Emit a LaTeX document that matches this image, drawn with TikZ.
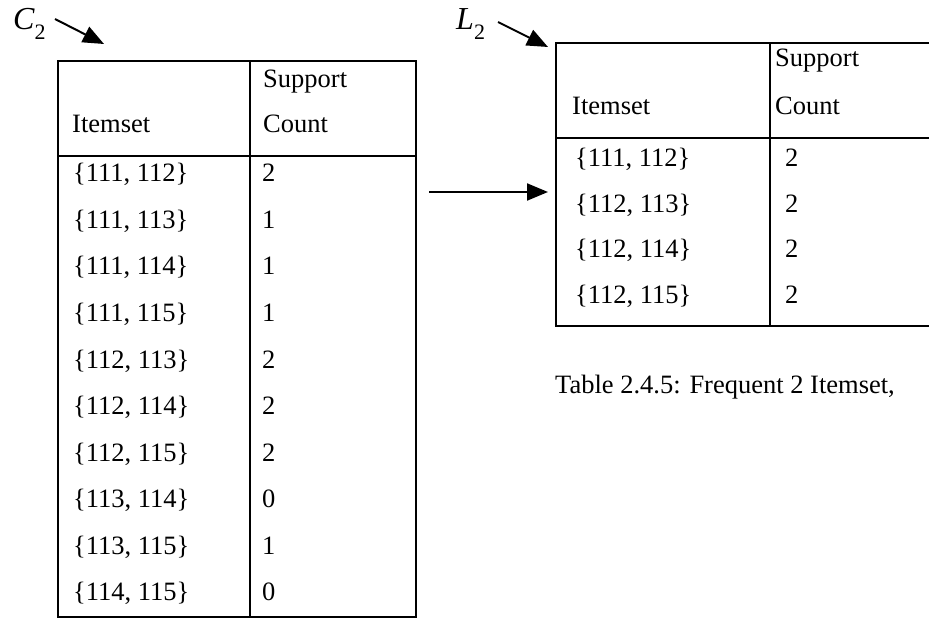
\documentclass[tikz,border=0pt]{standalone}
\usepackage{fontspec}
\setmainfont{Liberation Serif}
\usetikzlibrary{arrows.meta}
\begin{document}
\begin{tikzpicture}[x=1bp,y=-1bp,
  cell/.style={anchor=base west, inner sep=0pt, font=\fontsize{26.5bp}{30bp}\selectfont},
  setlabel/.style={anchor=base west, inner sep=0pt, font=\fontsize{32bp}{36bp}\selectfont\itshape},
  grid/.style={line width=1.3bp},
  pointer/.style={line width=2bp, -{Triangle[length=21bp,width=17bp]}}]
\useasboundingbox (0,0) rectangle (929,619);

% ---- candidate table C2 ----
\draw[grid] (58,61) rectangle (416,617);
\draw[grid] (250,61) -- (250,617);
\draw[grid] (58,156) -- (416,156);
\node[cell] (c2h1) at (263,88) {Support};
\node[cell] (c2h2) at (72,133) {Itemset};
\node[cell] (c2h3) at (263,133) {Count};
\foreach \s/\n [count=\i from 0] in {{111, 112}/2,{111, 113}/1,{111, 114}/1,{111, 115}/1,{112, 113}/2,{112, 114}/2,{112, 115}/2,{113, 114}/0,{113, 115}/1,{114, 115}/0}{
  \node[cell] (c2s\i) at (73,182+46.5*\i) {\{\s\}};
  \node[cell] (c2n\i) at (262,182+46.5*\i) {\n};
}

% ---- frequent table L2 ----
\draw[grid] (940,43) -- (556,43) -- (556,326) -- (940,326);
\draw[grid] (770,43) -- (770,326);
\draw[grid] (556,138) -- (940,138);
\node[cell] (l2h1) at (775,67) {Support};
\node[cell] (l2h2) at (572,115) {Itemset};
\node[cell] (l2h3) at (775,115) {Count};
\foreach \s [count=\i from 0] in {{111, 112},{112, 113},{112, 114},{112, 115}}{
  \node[cell] (l2s\i) at (575,167+45.5*\i) {\{\s\}};
  \node[cell] (l2n\i) at (785,167+45.5*\i) {2};
}

\node[cell] (caption) at (555,393) {Table 2.4.5: Frequent 2 Itemset,};

% ---- set labels and pointers ----
\node[setlabel] (c2lbl) at (13,30) {C\raisebox{-0.3em}{\fontsize{22bp}{24bp}\selectfont\upshape 2}};
\node[setlabel] (l2lbl) at (456,30) {L\raisebox{-0.3em}{\fontsize{22bp}{24bp}\selectfont\upshape 2}};
\coordinate (c2tail) at (55,19);
\coordinate (c2tip) at (104,44);
\coordinate (l2tail) at (498,22);
\coordinate (l2tip) at (548,47);
\coordinate (flowtail) at (429,192);
\coordinate (flowtip) at (548,192);
\draw[pointer] (c2tail) -- (c2tip);
\draw[pointer] (l2tail) -- (l2tip);
\draw[pointer] (flowtail) -- (flowtip);
\end{tikzpicture}
\end{document}
